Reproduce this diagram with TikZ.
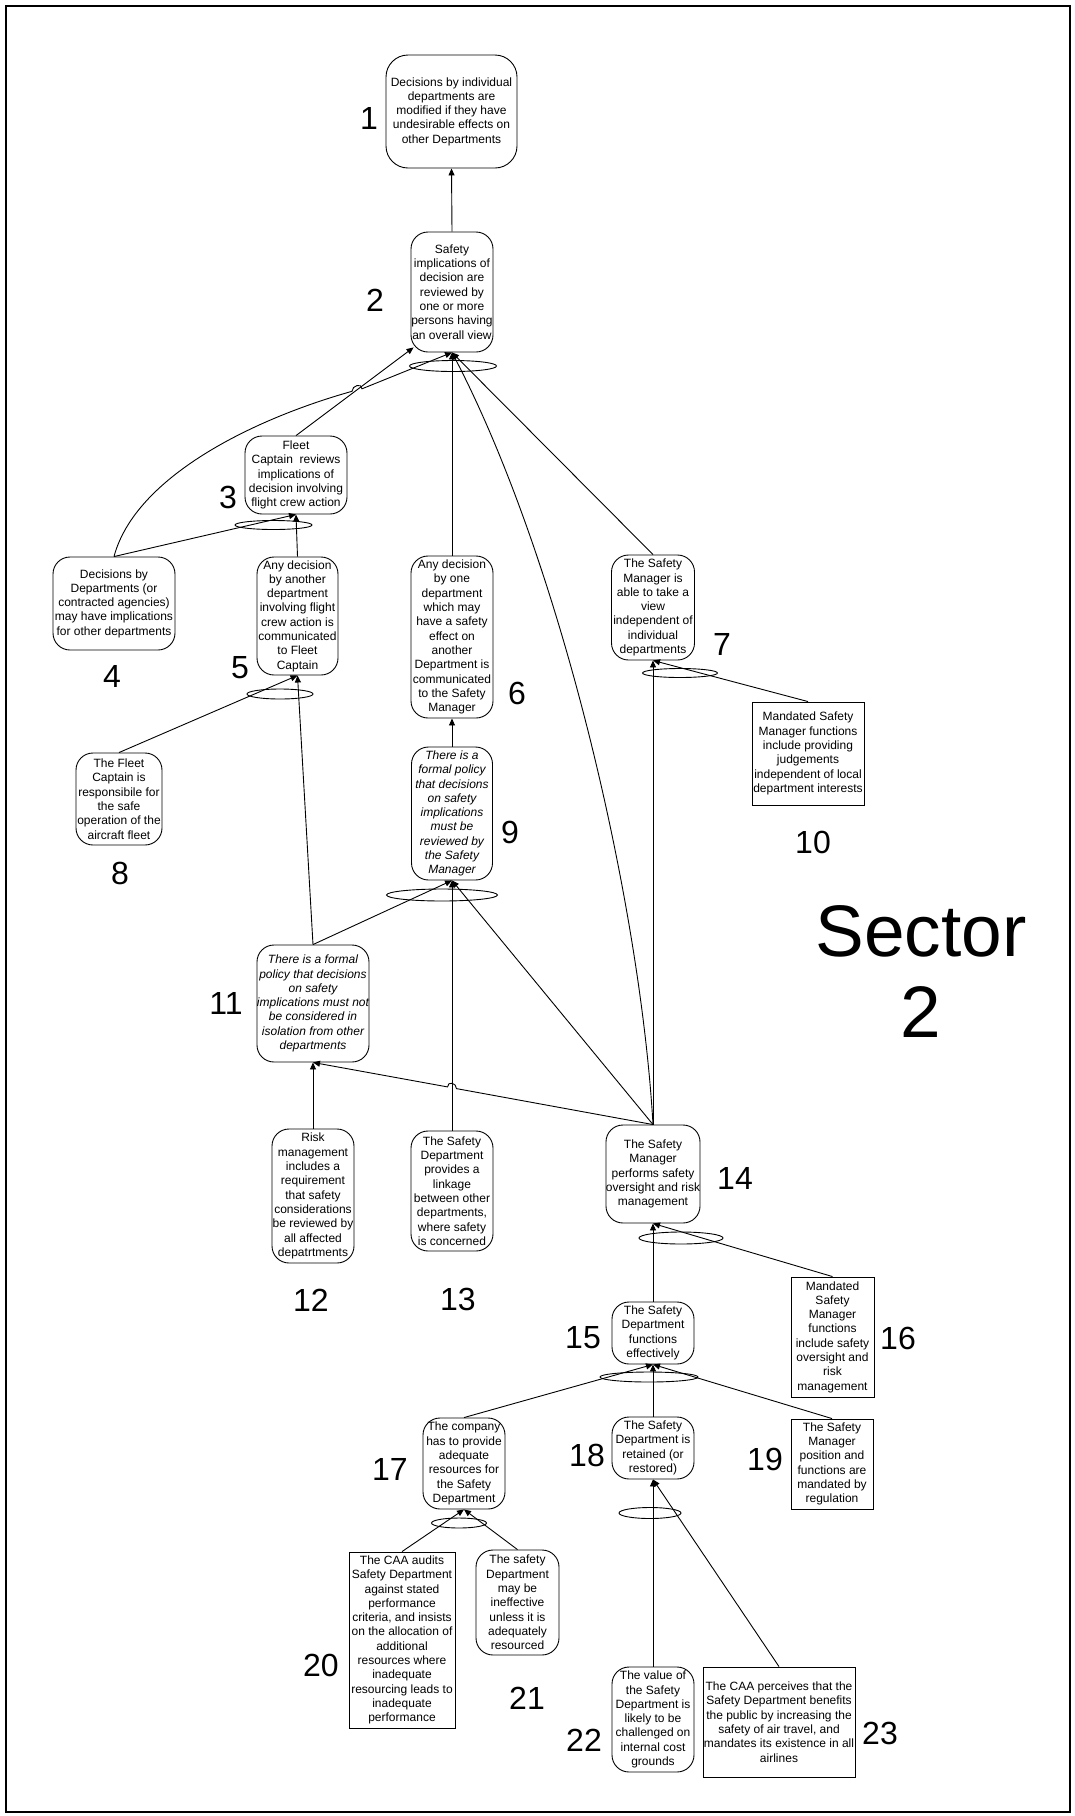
\documentclass[tikz,border=0pt]{standalone}
\usepackage{fontspec}
\setmainfont{Liberation Sans}
\usetikzlibrary{arrows.meta,shapes.geometric,calc}
\newcommand\nodefont{\fontsize{12}{14.3}\selectfont}
\newcommand\numfont{\fontsize{32}{36}\selectfont}
\newcommand\bigfont{\fontsize{73}{81}\selectfont}

\begin{document}
\begin{tikzpicture}[x=1pt,y=-1pt,
  gbox/.style={draw, rounded corners=17pt, inner sep=0pt, align=center, font=\nodefont, line width=0.9pt},
  ibox/.style={gbox, font=\nodefont\itshape},
  rbox/.style={draw, rectangle, inner sep=0pt, align=center, font=\nodefont, line width=0.9pt},
  sz/.style 2 args={minimum width=#1pt, minimum height=#2pt},
  num/.style={font=\numfont, inner sep=0pt},
  andell/.style={draw, ellipse, inner sep=0pt, line width=0.9pt},
  arr/.style={-{Triangle[length=7pt,width=6pt]}, line width=0.9pt},
  link/.style={line width=0.9pt}]

\useasboundingbox (0,0) rectangle (1075,1816);
\draw[line width=2pt] (6,6) rectangle (1070,1812);

% goals and strategies
\node[gbox, sz={131}{113}, rounded corners=22pt] (n1) at (451.5,111.5)
  {Decisions by individual\\departments are\\modified if they have\\undesirable effects on\\other Departments};
\node[gbox, sz={82}{120}] (n2) at (452,292)
  {Safety\\implications of\\decision are\\reviewed by\\one or more\\persons having\\an overall view};
\node[gbox, sz={102}{78}] (n3) at (296,475)
  {Fleet\\Captain\ \ reviews\\implications of\\decision involving\\flight crew action};
\node[gbox, sz={122}{93}] (n4) at (114,603.5)
  {Decisions by\\Departments (or\\contracted agencies)\\may have implications\\for other departments};
\node[gbox, sz={81}{118}] (n5) at (297.5,616)
  {Any decision\\by another\\department\\involving flight\\crew action is\\communicated\\to Fleet\\Captain};
\node[gbox, sz={82}{162}] (n6) at (452,637)
  {Any decision\\by one\\department\\which may\\have a safety\\effect on\\another\\Department is\\communicated\\to the Safety\\Manager};
\node[gbox, sz={83}{105}] (n7) at (653,607.5)
  {The Safety\\Manager is\\able to take a\\view\\independent of\\individual\\departments};
\node[gbox, sz={86}{92}] (n8) at (119,799)
  {The Fleet\\Captain is\\responsibile for\\the safe\\operation of the\\aircraft fleet};
\node[ibox, sz={81}{133}] (n9) at (452,813.5)
  {There is a\\formal policy\\that decisions\\on safety\\implications\\must be\\reviewed by\\the Safety\\Manager};
\node[rbox, sz={112}{103}] (n10) at (808,753.5)
  {Mandated Safety\\Manager functions\\include providing\\judgements\\independent of local\\department interests};
\node[ibox, sz={110}{117}] (n11) at (313,1003.5)
  {There is a formal\\policy that decisions\\on safety\\implications must not\\be considered in\\isolation from other\\departments};
\node[gbox, sz={82}{134}] (n12) at (313,1196)
  {Risk\\management\\includes a\\requirement\\that safety\\considerations\\be reviewed by\\all affected\\depatrtments};
\node[gbox, sz={82}{120}] (n13) at (452,1191)
  {The Safety\\Department\\provides a\\linkage\\between other\\departments,\\where safety\\is concerned};
\node[gbox, sz={94}{98}] (n14) at (653,1174)
  {The Safety\\Manager\\performs safety\\oversight and risk\\management};
\node[gbox, sz={82}{62}] (n15) at (653,1333)
  {The Safety\\Department\\functions\\effectively};
\node[rbox, sz={83}{120}] (n16) at (832.5,1337)
  {Mandated\\Safety\\Manager\\functions\\include safety\\oversight and\\risk\\management};
\node[gbox, sz={82}{91}] (n17) at (464,1463.5)
  {The company\\has to provide\\adequate\\resources for\\the Safety\\Department};
\node[gbox, sz={82}{62}] (n18) at (653,1448)
  {The Safety\\Department is\\retained (or\\restored)};
\node[rbox, sz={82}{90}] (n19) at (832,1464)
  {The Safety\\Manager\\position and\\functions are\\mandated by\\regulation};
\node[rbox, sz={106}{176}] (n20) at (402,1640)
  {The CAA audits\\Safety Department\\against stated\\performance\\criteria, and insists\\on the allocation of\\additional\\resources where\\inadequate\\resourcing leads to\\inadequate\\performance};
\node[gbox, sz={83}{105}] (n21) at (517.5,1602.5)
  {The safety\\Department\\may be\\ineffective\\unless it is\\adequately\\resourced};
\node[gbox, sz={82}{105}] (n22) at (653,1719.5)
  {The value of\\the Safety\\Department is\\likely to be\\challenged on\\internal cost\\grounds};
\node[rbox, sz={152}{110}] (n23) at (779,1722)
  {The CAA perceives that the\\Safety Department benefits\\the public by increasing the\\safety of air travel, and\\mandates its existence in all\\airlines};

% "and" ellipses joining grouped supports
\node[andell, sz={87}{11}] (e2) at (453,366) {};
\node[andell, sz={77}{9}] (e3) at (273.5,525) {};
\node[andell, sz={66}{10}] (e5) at (280,694) {};
\node[andell, sz={75}{9}] (e7) at (680,673) {};
\node[andell, sz={111}{12}] (e9) at (442,895) {};
\node[andell, sz={84}{12}] (e14) at (681,1238) {};
\node[andell, sz={98}{10}] (e15) at (649,1377) {};
\node[andell, sz={62}{11}] (e18) at (650,1513) {};
\node[andell, sz={55}{10}] (e17) at (459,1523) {};

% numbers
\node[num] (l1) at (369,118) {1};
\node[num] (l2) at (375,300) {2};
\node[num] (l3) at (228,497) {3};
\node[num] (l4) at (112,676) {4};
\node[num] (l5) at (240,668) {5};
\node[num] (l6) at (517,693) {6};
\node[num] (l7) at (722,644) {7};
\node[num] (l8) at (120,873) {8};
\node[num] (l9) at (510,832) {9};
\node[num] (l10) at (813,842) {10};
\node[num] (l11) at (226,1003) {11};
\node[num] (l12) at (311,1300) {12};
\node[num] (l13) at (458,1299) {13};
\node[num] (l14) at (735,1178) {14};
\node[num] (l15) at (583,1338) {15};
\node[num] (l16) at (898,1338) {16};
\node[num] (l17) at (390,1469) {17};
\node[num] (l18) at (587,1455) {18};
\node[num] (l19) at (765,1459) {19};
\node[num] (l20) at (321,1665) {20};
\node[num] (l21) at (527,1698) {21};
\node[num] (l22) at (584,1740) {22};
\node[num] (l23) at (880,1733) {23};

\node[font=\bigfont, inner sep=0pt, anchor=base] (sec1) at (921,956) {Sector};
\node[font=\bigfont, inner sep=0pt, anchor=base] (sec2) at (921,1037) {2};

% connectors
\coordinate (t2w) at ($(n2.south west)+(3,-5)$);
\coordinate (hpC) at (352,391.3);
\coordinate (hpD) at (362,388.8);
\coordinate (hpA) at (456.5,1088.6);
\coordinate (hpB) at (447.5,1086.9);

\draw[arr] (n2.north) -- (n1.south);
\draw[arr] (n3.north) -- (t2w);
\draw[arr] (n4.north) .. controls (135,478) and (250,420) .. (hpC)
  .. controls ($(hpC)+(0,-6)$) and ($(hpD)+(0,-6)$) .. (hpD) -- (n2.south);
\draw[arr] (n6.north) -- (n2.south);
\draw[arr] (n7.north) -- (n2.south);
\draw[arr] (n14.north) .. controls (640,900) and (560,560) .. (n2.south);

\draw[arr] (n4.north) -- (n3.south);
\draw[arr] (n5.north) -- (n3.south);

\draw[arr] (n8.north) -- (n5.south);
\draw[arr] (n11.north) -- (n5.south);

\draw[arr] (n9.north) -- (n6.south);

\draw[arr] (n10.north) -- (n7.south);
\draw[arr] (n14.north) -- (n7.south);

\draw[arr] (n11.north) -- (n9.south);
\draw[arr] (n13.north) -- (n9.south);
\draw[arr] (n14.north) -- (n9.south);

\draw[arr] (n12.north) -- (n11.south);
\draw[arr] (n14.north) -- (hpA)
  .. controls ($(hpA)+(0,-6)$) and ($(hpB)+(0,-6)$) .. (hpB) -- (n11.south);

\draw[arr] (n15.north) -- (n14.south);
\draw[arr] (n16.north) -- (n14.south);

\draw[arr] (n17.north) -- (n15.south);
\draw[arr] (n18.north) -- (n15.south);
\draw[arr] (n19.north) -- (n15.south);

\draw[arr] (n22.north) -- (n18.south);
\draw[arr] (n23.north) -- (n18.south);

\draw[arr] (n20.north) -- (n17.south);
\draw[arr] (n21.north) -- (n17.south);

\end{tikzpicture}
\end{document}
